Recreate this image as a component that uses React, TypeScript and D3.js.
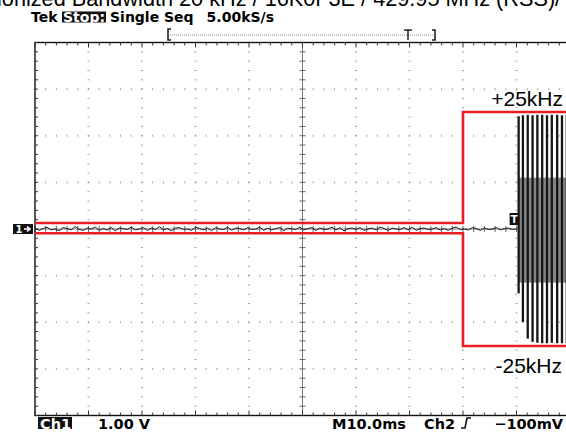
import React, { useEffect, useRef } from 'react'
import * as d3 from 'd3'

// scope settings: 10 div x 10 ms, 8 div x 1.00 V
const timeDomain = [0, 100]
const voltDomain = [-4, 4]

// ch1 trace before trigger (volts), one sample every 0.75 ms
const noiseStep = 0.75
const noiseTrace = [
  0.02, -0.03, 0.01, 0.04, -0.02, 0.0, -0.04, 0.03, 0.01, -0.02, 0.05, -0.01, -0.03, 0.02, 0.0, 0.04,
  -0.03, 0.01, -0.02, 0.03, -0.04, 0.02, 0.01, -0.01, 0.04, -0.02, 0.0, 0.03, -0.03, 0.02, -0.01, 0.05,
  -0.02, 0.01, -0.04, 0.02, 0.03, -0.01, 0.0, -0.03, 0.04, 0.01, -0.02, 0.02, -0.04, 0.03, 0.0, -0.01,
  0.04, -0.03, 0.02, 0.01, -0.02, 0.03, -0.01, 0.0, 0.04, -0.03, 0.02, -0.02, 0.01, 0.03, -0.04, 0.02,
  0.0, -0.01, 0.04, -0.02, 0.01, 0.03, -0.03, 0.02, -0.01, 0.0, 0.04, -0.02, 0.03, -0.04, 0.01, 0.02,
  -0.01, 0.03, -0.03, 0.0, 0.02, -0.02, 0.04, 0.01, -0.03, 0.02, 0.0, -0.01, 0.03, -0.02, 0.04, -0.03,
  0.01, 0.02, -0.01, 0.0, 0.03, -0.02, 0.01, -0.03, 0.02, 0.04, -0.01, 0.0, -0.02, 0.03, 0.01, -0.03,
  0.02, -0.01, 0.0, 0.03, -0.02, 0.01, 0.02, -0.01
]

// burst after trigger: time of each cycle (ms), peak and trough (V)
const triggerT = 90.4
const burstT = [90.4, 91.2, 92.1, 93.0, 93.9, 94.8, 95.7, 96.6, 97.6, 98.5, 99.4]
const burstHi = [2.42, 2.44, 2.45, 2.44, 2.45, 2.45, 2.44, 2.45, 2.45, 2.44, 2.45]
const burstLo = [-1.38, -2.0, -2.35, -2.42, -2.44, -2.45, -2.45, -2.44, -2.45, -2.45, -2.45]
const burstCore = [1.1, -1.15]

// red mask
const maskT = [0, 80, 80, 100]
const maskUpper = [0.13, 0.13, 2.51, 2.51]
const maskLower = [-0.09, -0.09, -2.51, -2.51]
const maskLabels = ['+25kHz', '-25kHz']

const titleText = 'ionized Bandwidth 20 kHz / 16K0F3E / 429.95 MHz (RSS)/'

const W = 566
const H = 433
const tekFont = '"DejaVu Sans", sans-serif'
const arial = '"Liberation Sans", Arial, sans-serif'

function Scope() {
  const ref = useRef<SVGSVGElement>(null)

  useEffect(() => {
    const svg = d3.select(ref.current)
    svg.selectAll('*').remove()

    const x = d3.scaleLinear().domain(timeDomain).range([35, 570])
    const y = d3.scaleLinear().domain(voltDomain).range([415.5, 42.5])

    svg.append('rect').attr('width', W).attr('height', H).attr('fill', '#fff')

    // graticule dots on division lines
    const grid = svg.append('g')
    const divT = d3.range(10, 100, 10).filter(t => t !== 50)
    const divV = d3.range(-3, 4, 1).filter(v => v !== 0)
    const minorV = d3.range(-4, 4.001, 0.2)
    const minorT = d3.range(0, 100.001, 2)
    divT.forEach(t => {
      minorV.forEach(v => {
        grid.append('rect')
          .attr('x', x(t) - 1).attr('y', y(v) - 0.5)
          .attr('width', 2).attr('height', 1)
          .attr('fill', '#a0a0a0')
      })
    })
    divV.forEach(v => {
      minorT.forEach(t => {
        grid.append('rect')
          .attr('x', x(t) - 0.5).attr('y', y(v) - 1)
          .attr('width', 1).attr('height', 2)
          .attr('fill', '#a0a0a0')
      })
    })

    // centre cross
    grid.append('line')
      .attr('x1', x(50)).attr('x2', x(50)).attr('y1', y(4)).attr('y2', y(-4))
      .attr('stroke', '#777').attr('stroke-width', 1)
    grid.append('line')
      .attr('x1', x(0)).attr('x2', x(100)).attr('y1', y(0)).attr('y2', y(0))
      .attr('stroke', '#777').attr('stroke-width', 1)
    minorV.forEach(v => {
      grid.append('line')
        .attr('x1', x(50) - 3).attr('x2', x(50) + 3).attr('y1', y(v)).attr('y2', y(v))
        .attr('stroke', '#666')
    })
    minorT.forEach(t => {
      grid.append('line')
        .attr('x1', x(t)).attr('x2', x(t)).attr('y1', y(0) - 3).attr('y2', y(0) + 3)
        .attr('stroke', '#666')
    })

    // frame with ticks
    svg.append('rect')
      .attr('x', x(0)).attr('y', y(4))
      .attr('width', x(100) - x(0)).attr('height', y(-4) - y(4))
      .attr('fill', 'none').attr('stroke', '#111').attr('stroke-width', 1.4)
    minorT.forEach(t => {
      const len = t % 10 === 0 ? 5 : 3
      svg.append('line').attr('x1', x(t)).attr('x2', x(t))
        .attr('y1', y(4)).attr('y2', y(4) + len).attr('stroke', '#333')
      svg.append('line').attr('x1', x(t)).attr('x2', x(t))
        .attr('y1', y(-4)).attr('y2', y(-4) - len).attr('stroke', '#333')
    })
    minorV.forEach(v => {
      svg.append('line').attr('x1', x(0)).attr('x2', x(0) + 3)
        .attr('y1', y(v)).attr('y2', y(v)).attr('stroke', '#333')
    })

    // red mask
    const maskLine = d3.line<number>().x((d, i) => x(maskT[i])).y(d => y(d))
    ;[maskUpper, maskLower].forEach(vals => {
      svg.append('path')
        .attr('d', maskLine(vals))
        .attr('fill', 'none')
        .attr('stroke', '#ea1c24')
        .attr('stroke-width', 2.6)
    })

    // ch1 noise before trigger
    const trace = d3.line<number>().x((d, i) => x(i * noiseStep)).y(d => y(d))
    svg.append('path')
      .attr('d', trace([...noiseTrace, 0]))
      .attr('fill', 'none')
      .attr('stroke', '#1a1a1a')
      .attr('stroke-width', 1)

    // burst
    svg.append('rect')
      .attr('x', x(burstT[0]))
      .attr('y', y(burstCore[0]))
      .attr('width', x(100) - x(burstT[0]))
      .attr('height', y(burstCore[1]) - y(burstCore[0]))
      .attr('fill', '#848484')
    svg.append('g')
      .selectAll('line')
      .data(burstT)
      .enter()
      .append('line')
      .attr('x1', d => x(d)).attr('x2', d => x(d))
      .attr('y1', (d, i) => y(burstHi[i]))
      .attr('y2', (d, i) => y(burstLo[i]))
      .attr('stroke', '#161616')
      .attr('stroke-width', 2.3)

    // trigger marker
    const tx = x(triggerT)
    svg.append('rect').attr('x', tx - 9).attr('y', y(0) - 16).attr('width', 9).attr('height', 12).attr('fill', '#111')
    svg.append('text').attr('x', tx - 4.5).attr('y', y(0) - 6.5)
      .attr('text-anchor', 'middle').attr('fill', '#fff')
      .style('font-family', tekFont).style('font-weight', 'bold').style('font-size', '10px')
      .text('T')

    // channel 1 ground marker
    svg.append('rect').attr('x', 13).attr('y', y(0) - 5).attr('width', 20).attr('height', 10).attr('fill', '#111')
    svg.append('text').attr('x', 19).attr('y', y(0) + 4)
      .attr('text-anchor', 'middle').attr('fill', '#fff')
      .style('font-family', tekFont).style('font-weight', 'bold').style('font-size', '10px')
      .text('1')
    svg.append('path')
      .attr('d', `M24,${y(0)} L29,${y(0)} M27,${y(0) - 2.5} L30,${y(0)} L27,${y(0) + 2.5}`)
      .attr('stroke', '#fff').attr('stroke-width', 1.6).attr('fill', 'none')

    // mask labels
    svg.append('text')
      .attr('x', 563).attr('y', y(maskUpper[3]) - 6)
      .attr('text-anchor', 'end')
      .style('font-family', arial).style('font-size', '21px')
      .text(maskLabels[0])
    svg.append('text')
      .attr('x', 562).attr('y', y(maskLower[3]) + 27)
      .attr('text-anchor', 'end')
      .style('font-family', arial).style('font-size', '21px')
      .text(maskLabels[1])

    // cropped title
    svg.append('text')
      .attr('x', -3).attr('y', 6)
      .style('font-family', arial).style('font-size', '21.7px')
      .text(titleText)

    // header
    const head = svg.append('g')
      .style('font-family', tekFont).style('font-weight', 'bold').style('font-size', '14px')
    head.append('text').attr('x', 31).attr('y', 21.5).text('Tek')
    head.append('rect').attr('x', 62).attr('y', 11.5).attr('width', 44).attr('height', 11).attr('fill', '#111')
    head.append('text').attr('x', 63).attr('y', 21.5).attr('fill', '#fff').text('Stop:')
    head.append('text').attr('x', 110).attr('y', 21.5).text('Single Seq')
    head.append('text').attr('x', 274).attr('y', 21.5).attr('text-anchor', 'end').text('5.00kS/s')

    // record bracket
    const br = svg.append('g').attr('stroke', '#222').attr('fill', 'none')
    br.append('path').attr('d', 'M171,29 L168,29 L168,40 L171,40').attr('stroke-width', 1.6)
    br.append('path').attr('d', 'M432,30 L435,30 L435,40 L432,40').attr('stroke-width', 1.6)
    br.append('line').attr('x1', 170).attr('x2', 434).attr('y1', 35).attr('y2', 35)
      .attr('stroke', '#888').attr('stroke-dasharray', '1,1')
    br.append('path').attr('d', 'M404,30 L412,30 M408,30 L408,40').attr('stroke-width', 1.5)

    // footer
    const foot = svg.append('g')
      .style('font-family', tekFont).style('font-weight', 'bold').style('font-size', '14.5px')
    foot.append('rect').attr('x', 38).attr('y', 417).attr('width', 34).attr('height', 12).attr('fill', '#111')
    foot.append('text').attr('x', 40).attr('y', 428.5).attr('fill', '#fff').text('Ch1')
    foot.append('text').attr('x', 98).attr('y', 428.5).text('1.00 V')
    foot.append('text').attr('x', 332).attr('y', 428.5).text('M10.0ms')
    foot.append('text').attr('x', 424).attr('y', 428.5).text('Ch2')
    foot.append('path').attr('d', 'M461,428 L465,428 L467,418 L471,418')
      .attr('stroke', '#111').attr('stroke-width', 1.6).attr('fill', 'none')
    foot.append('text').attr('x', 563).attr('y', 428.5).attr('text-anchor', 'end').text('\u2212100mV')
  }, [])

  return <svg ref={ref} width={W} height={H} style={{ position: 'absolute', left: 0, top: 0 }} />
}

export default function App() {
  return <Scope />
}
